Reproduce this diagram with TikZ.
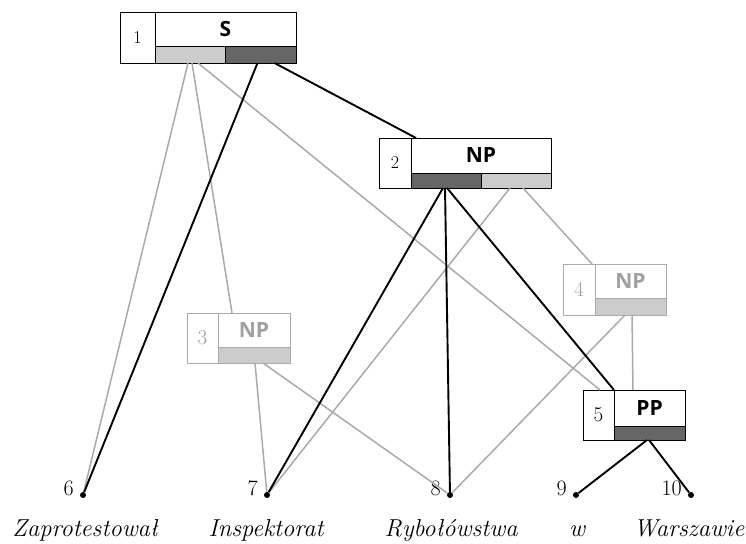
\documentclass[tikz,border=0pt]{standalone}
\usepackage{fontspec}
\setsansfont{Open Sans}
\usetikzlibrary{calc}
\definecolor{darkbar}{HTML}{666666}
\definecolor{lightbar}{HTML}{CCCCCC}
\definecolor{grayline}{HTML}{AAAAAA}
\definecolor{graytext}{HTML}{A0A0A0}
\tikzset{
  cellbox/.style={draw=#1, fill=white, inner sep=0pt, outer sep=0pt, anchor=north west, line width=0.9pt,
    font=\fontsize{18}{18}\selectfont},
  labbox/.style={draw=#1, fill=white, inner sep=0pt, outer sep=0pt, anchor=north west, line width=0.9pt,
    font=\sffamily\bfseries\fontsize{21}{21}\selectfont},
  barbox/.style={draw=#1, inner sep=0pt, outer sep=0pt, anchor=north west, line width=0.9pt},
  blk/.style={draw=black, line width=1.9pt},
  gry/.style={draw=grayline, line width=1.5pt},
  leaf/.style={circle, fill=black, inner sep=0pt, minimum size=6pt},
  numlab/.style={font=\fontsize{22}{22}\selectfont, anchor=base east, inner sep=0pt},
  word/.style={font=\itshape\fontsize{24.5}{24.5}\selectfont, anchor=base, inner sep=0pt},
  cellnum/.style={font=\fontsize{21}{21}\selectfont},
}
\begin{document}
\begin{tikzpicture}[x=1pt,y=-1pt]
\useasboundingbox (0,0) rectangle (746,543);
% ---------- leaves ----------
\node[leaf] (l6) at (83,495) {};
\node[leaf] (l7) at (267,495) {};
\node[leaf] (l8) at (450,495) {};
\node[leaf] (l9) at (576,495) {};
\node[leaf] (l10) at (691,495) {};
\node[numlab] (t6) at (74,495) {\oldstylenums{6}};
\node[numlab] (t7) at (258,495) {\oldstylenums{7}};
\node[numlab] (t8) at (441,495) {\oldstylenums{8}};
\node[numlab] (t9) at (567,495) {\oldstylenums{9}};
\node[numlab] (t10) at (682,495) {\oldstylenums{10}};
\node[word] (w6) at (85,536) {Zaprotestował};
\node[word] (w7) at (266,536) {Inspektorat};
\node[word] (w8) at (451,536) {Rybołówstwa};
\node[word] (w9) at (577,536) {w};
\node[word] (w10) at (689,536) {Warszawie};
% ---------- box 1: S ----------
\node[cellbox=black, minimum width=35pt, minimum height=51pt] (n1) at (120,12) {\oldstylenums{1}};
\node[labbox=black, minimum width=141pt, minimum height=34pt] (s1) at (155,12) {S};
\node[barbox=black, fill=lightbar, minimum width=70.5pt, minimum height=17pt] (b1a) at (155,46) {};
\node[barbox=black, fill=darkbar, minimum width=70.5pt, minimum height=17pt] (b1b) at (225.5,46) {};
% ---------- box 2: NP ----------
\node[cellbox=black, minimum width=32pt, minimum height=50pt] (n2) at (379,138) {\oldstylenums{2}};
\node[labbox=black, minimum width=140pt, minimum height=35pt] (s2) at (411,138) {NP};
\node[barbox=black, fill=darkbar, minimum width=70pt, minimum height=15pt] (b2a) at (411,173) {};
\node[barbox=black, fill=lightbar, minimum width=70pt, minimum height=15pt] (b2b) at (481,173) {};
% ---------- box 3: NP (gray) ----------
\node[cellbox=grayline, cellnum, text=graytext, minimum width=31pt, minimum height=50pt] (n3) at (187,313) {3};
\node[labbox=grayline, text=graytext, minimum width=72pt, minimum height=34pt] (s3) at (218,313) {NP};
\node[barbox=grayline, fill=lightbar, minimum width=72pt, minimum height=16pt] (b3) at (218,347) {};
% ---------- box 4: NP (gray) ----------
\node[cellbox=grayline, cellnum, text=graytext, minimum width=32pt, minimum height=51pt] (n4) at (563,264) {4};
\node[labbox=grayline, text=graytext, minimum width=71pt, minimum height=34pt] (s4) at (595,264) {NP};
\node[barbox=grayline, fill=lightbar, minimum width=71pt, minimum height=17pt] (b4) at (595,298) {};
% ---------- box 5: PP ----------
\node[cellbox=black, cellnum, minimum width=31pt, minimum height=50pt] (n5) at (583,390) {5};
\node[labbox=black, minimum width=71pt, minimum height=36pt] (s5) at (614,390) {PP};
\node[barbox=black, fill=darkbar, minimum width=71pt, minimum height=14pt] (b5) at (614,426) {};
% ---------- connector ends ----------
\coordinate (s-g1) at ([xshift=33pt]b1a.south west);
\coordinate (s-g2) at ([xshift=37pt]b1a.south west);
\coordinate (s-g3) at ([xshift=43pt]b1a.south west);
\coordinate (s-k1) at ([xshift=32pt]b1b.south west);
\coordinate (s-k2) at ([xshift=49pt]b1b.south west);
\coordinate (np2-top) at ([xshift=5pt]s2.north west);
\coordinate (np2-k1) at ([xshift=32pt]b2a.south west);
\coordinate (np2-k2) at ([xshift=34pt]b2a.south west);
\coordinate (np2-k3) at ([xshift=36pt]b2a.south west);
\coordinate (np2-g1) at ([xshift=29pt]b2b.south west);
\coordinate (np2-g2) at ([xshift=42pt]b2b.south west);
\coordinate (np3-top) at ([xshift=14pt]s3.north west);
\coordinate (np3-g1) at ([xshift=37pt]b3.south west);
\coordinate (np3-g2) at ([xshift=45pt]b3.south west);
\coordinate (np4-top) at ([xshift=-3pt]s4.north west);
\coordinate (np4-g1) at ([xshift=30pt]b4.south west);
\coordinate (np4-g2) at ([xshift=37pt]b4.south west);
\coordinate (pp5-topg) at ([xshift=-14pt]s5.north west);
\coordinate (pp5-topk) at (s5.north west);
\coordinate (pp5-topg2) at ([xshift=19pt]s5.north west);
\coordinate (pp5-k1) at ([xshift=33pt]b5.south west);
\coordinate (pp5-k2) at ([xshift=35pt]b5.south west);
% ---------- gray connectors ----------
\draw[gry] (s-g1) -- (l6);
\draw[gry] (s-g2) -- (np3-top);
\draw[gry] (s-g3) -- (pp5-topg);
\draw[gry] (np2-g1) -- (l7);
\draw[gry] (np2-g2) -- (np4-top);
\draw[gry] (np3-g1) -- (l7);
\draw[gry] (np3-g2) -- (l8);
\draw[gry] (np4-g1) -- (l8);
\draw[gry] (np4-g2) -- (pp5-topg2);
% ---------- black connectors ----------
\draw[blk] (s-k1) -- (l6);
\draw[blk] (s-k2) -- (np2-top);
\draw[blk] (np2-k1) -- (l7);
\draw[blk] (np2-k2) -- (l8);
\draw[blk] (np2-k3) -- (pp5-topk);
\draw[blk] (pp5-k1) -- (l9);
\draw[blk] (pp5-k2) -- (l10);
\end{tikzpicture}
\end{document}
